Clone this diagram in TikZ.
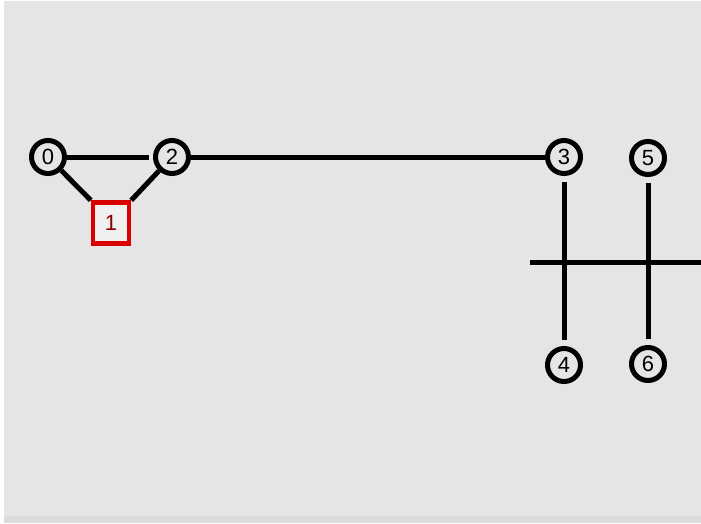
\documentclass[tikz,border=0pt]{standalone}
\usepackage{fontspec}
\setmainfont{Liberation Sans}
\begin{document}
\begin{tikzpicture}[x=1pt,y=-1pt,
   vertex/.style={circle,draw=black,line width=5pt,inner sep=0pt,minimum size=33pt,font=\fontsize{22}{22}\selectfont},
   redbox/.style={rectangle,draw=red!85!black,line width=4.5pt,inner sep=0pt,minimum width=36pt,minimum height=41pt,fill=black!6,font=\fontsize{22}{22}\selectfont,text=red!55!black},
   link/.style={black,line width=5pt}]
   \useasboundingbox (0,0) rectangle (701,523);
   \fill [white] (0,0) rectangle (701,523);
   \fill [black!10] (4,1) rectangle (701,523);
   \fill [black!14] (4,516) rectangle (701,523);
   % nodes
   \node [vertex] (n0) at (48,157) {0};
   \node [redbox] (n1) at (111,223) {1};
   \node [vertex] (n2) at (172,157) {2};
   \node [vertex] (n3) at (564,157) {3};
   \node [vertex] (n5) at (648,158) {5};
   \node [vertex] (n4) at (564,365) {4};
   \node [vertex] (n6) at (648,364) {6};
   % links
   \draw [link,shorten >=4pt] (n0) -- (n2);
   \draw [link] (n0) -- (n1.north west);
   \draw [link] (n2) -- (n1.north east);
   \draw [link] (n2) -- (n3);
   \draw [link,shorten <=6pt,shorten >=6pt] (n3) -- (n4);
   \draw [link,shorten <=6pt,shorten >=6pt] (n5) -- (n6);
   \coordinate (bl) at (530,262);
   \coordinate (br) at (701,262);
   \draw [link] (bl) -- (br);
\end{tikzpicture}
\end{document}
